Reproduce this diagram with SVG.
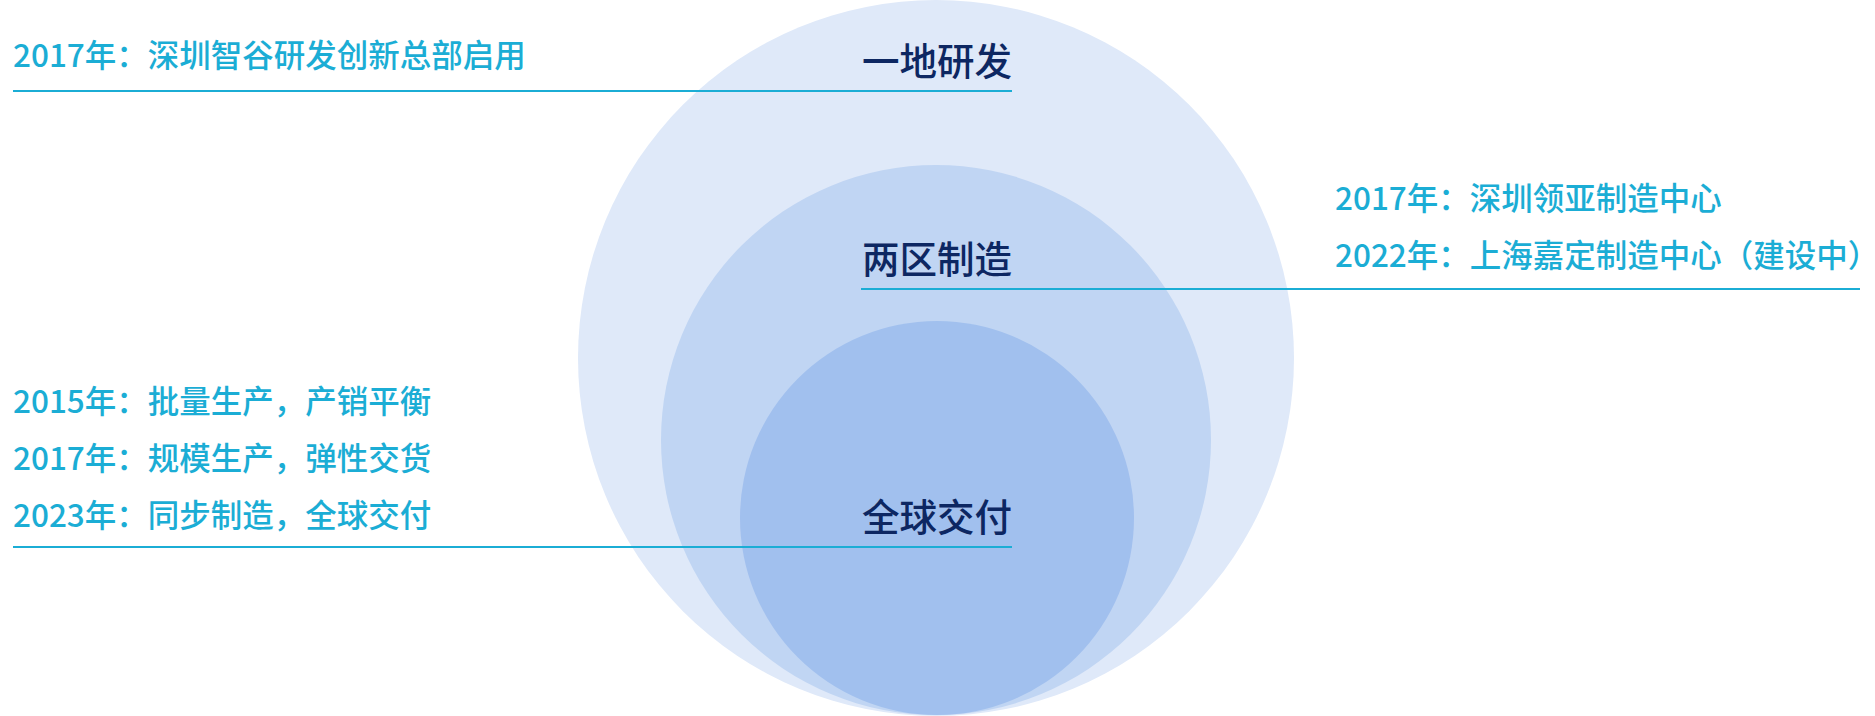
<svg xmlns="http://www.w3.org/2000/svg" width="1875" height="716" viewBox="0 0 1875 716">
<style>
.t{font-family:"Noto Sans CJK SC","Noto Sans",sans-serif;font-size:31.5px;font-weight:500;fill:#1badd5}
.h{font-family:"Noto Sans CJK SC","Noto Sans",sans-serif;font-size:37.5px;font-weight:500;fill:#0d2762;text-anchor:end}
.l{stroke:#1badd5;stroke-width:2;fill:none}
</style>
<rect width="1875" height="716" fill="#fff"/>
<g id="circle-outer"><circle cx="936" cy="358" r="358" fill="#dfe9f9"/></g>
<g id="circle-middle"><circle cx="936" cy="440" r="275" fill="#c0d5f3"/></g>
<g id="circle-inner"><circle cx="937" cy="518" r="197" fill="#a1c0ee"/></g>
<g id="connectors">
<line class="l" x1="13" y1="91" x2="1012" y2="91"/>
<line class="l" x1="861" y1="289" x2="1860" y2="289"/>
<line class="l" x1="13" y1="547" x2="1012" y2="547"/>
</g>
<g id="node-rd">
<text class="h" x="1012" y="75">一地研发</text>
<text class="t" x="13" y="67">2017年：深圳智谷研发创新总部启用</text>
</g>
<g id="node-mfg">
<text class="h" x="1012" y="273">两区制造</text>
<text class="t" x="1335" y="210">2017年：深圳领亚制造中心</text>
<text class="t" x="1335" y="267" font-size="30.5">2022年：上海嘉定制造中心（建设中）</text>
</g>
<g id="node-delivery">
<text class="h" x="1012" y="531">全球交付</text>
<text class="t" x="13" y="413">2015年：批量生产，产销平衡</text>
<text class="t" x="13" y="470">2017年：规模生产，弹性交货</text>
<text class="t" x="13" y="527">2023年：同步制造，全球交付</text>
</g>
</svg>
